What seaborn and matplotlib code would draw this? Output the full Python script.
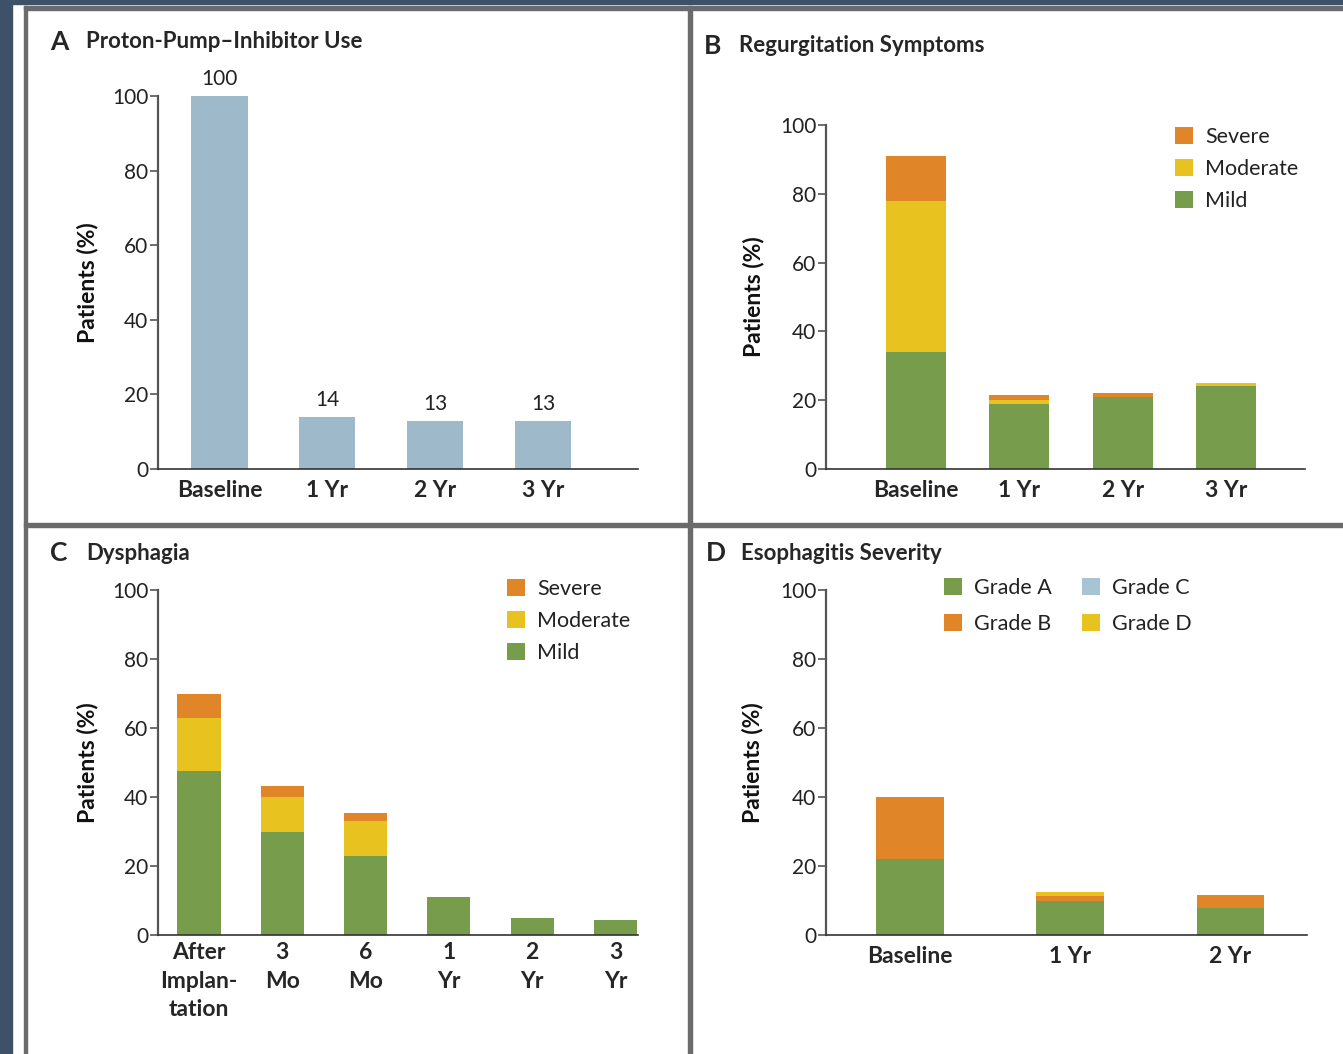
import numpy as np
import matplotlib
matplotlib.use('Agg')
import matplotlib.pyplot as plt
from matplotlib.patches import Patch, Rectangle
import seaborn as sns

# data
ppi_times = ['Baseline', '1 Yr', '2 Yr', '3 Yr']
ppi_use = [100, 14, 13, 13]

regurg_times = ['Baseline', '1 Yr', '2 Yr', '3 Yr']
regurg_mild = [34, 19, 21, 24]
regurg_moderate = [44, 1, 0, 1]
regurg_severe = [13, 1.5, 1, 0]

dysph_times = ['After\nImplan-\ntation', '3\nMo', '6\nMo', '1\nYr', '2\nYr', '3\nYr']
dysph_mild = [47.5, 30, 23, 11, 5, 4.3]
dysph_moderate = [15.5, 10, 10, 0, 0, 0]
dysph_severe = [7, 3.3, 2.3, 0, 0, 0]

eso_times = ['Baseline', '1 Yr', '2 Yr']
grade_a = [22, 10, 7.7]
grade_b = [18, 1.4, 3.8]
grade_c = [0, 0, 0]
grade_d = [0, 1, 0]

green = '#769c4c'
yellow = '#e8c31f'
orange = '#e08628'
lightblue = '#a8c4d4'
ppi_color = '#9db9ca'

sns.set_theme(style='white')
plt.rcParams['font.family'] = ['Lato', 'DejaVu Sans']

W, H = 1343, 1054
fig = plt.figure(figsize=(W / 100, H / 100), dpi=100)
fig.patch.set_facecolor('white')


def fx(px):
    return px / W


def fy(py):
    return 1 - py / H


# dark page background and panel frame
fig.add_artist(Rectangle((0, 0), fx(12), 1, transform=fig.transFigure, color='#3f5169', zorder=0))
fig.add_artist(Rectangle((0, fy(4)), 1, 4 / H, transform=fig.transFigure, color='#3f5169', zorder=0))
frame = '#6b6b6b'
fig.add_artist(Rectangle((fx(24), fy(10)), 1, 4 / H, transform=fig.transFigure, color=frame))
fig.add_artist(Rectangle((fx(24), 0), 3 / W, fy(6), transform=fig.transFigure, color=frame))
fig.add_artist(Rectangle((fx(24), fy(527)), 1, 4 / H, transform=fig.transFigure, color=frame))
fig.add_artist(Rectangle((fx(688), 0), 4 / W, fy(6), transform=fig.transFigure, color=frame))


def make_ax(x0, x1, ytop, ybot):
    return fig.add_axes([fx(x0), fy(ybot), (x1 - x0) / W, (ybot - ytop) / H])


def style_ax(ax, xlim, labx, pad=8):
    ax.set_ylim(0, 100)
    ax.set_xlim(*xlim)
    ax.set_yticks([0, 20, 40, 60, 80, 100])
    sns.despine(ax=ax)
    ax.spines['left'].set_color('#555555')
    ax.spines['left'].set_linewidth(1.6)
    ax.spines['bottom'].set_color('#333333')
    ax.spines['bottom'].set_linewidth(1.2)
    ax.tick_params(axis='y', direction='out', length=6, width=1.2, color='#555555',
                   labelsize=15, pad=1, left=True, labelcolor='#222222')
    ax.tick_params(axis='x', length=0, pad=pad, labelsize=16.5)
    for t in ax.get_xticklabels():
        t.set_fontweight('bold')
    ax.set_xlabel('')
    ax.set_ylabel('Patients (%)', fontsize=16.5, fontweight='bold', color='#111111')
    ax.yaxis.set_label_coords(labx, 0.5)


def stacked(ax, cats, layers, colors, width):
    cum = np.cumsum(np.array(layers, dtype=float), axis=0)
    for i in range(len(layers) - 1, -1, -1):
        sns.barplot(x=cats, y=cum[i], order=cats, color=colors[i], width=width,
                    saturation=1, errorbar=None, linewidth=0, ax=ax)


def legend(ax, labels, colors, x, y, ncol=1, spacing=0.55):
    handles = [Patch(facecolor=c, edgecolor='none') for c in colors]
    ax.legend(handles, labels, loc='upper left', bbox_to_anchor=(fx(x), fy(y)),
              bbox_transform=fig.transFigure, frameon=False, fontsize=15.5,
              handlelength=0.85, handleheight=0.85, handletextpad=0.55,
              labelspacing=spacing, borderpad=0, borderaxespad=0, ncol=ncol,
              columnspacing=1.4, labelcolor='#222222')


def title(letter, text, x_letter, x_text, y):
    fig.text(fx(x_letter), fy(y), letter, fontsize=19, fontweight='bold', va='center', ha='left')
    fig.text(fx(x_text), fy(y), text, fontsize=16, fontweight='bold', va='center', ha='left')


# A  Proton-pump inhibitor use
axA = make_ax(158, 638, 96, 469)
sns.barplot(x=ppi_times, y=ppi_use, order=ppi_times, color=ppi_color, width=0.52,
            saturation=1, errorbar=None, linewidth=0, ax=axA)
axA.bar_label(axA.containers[0], labels=[str(v) for v in ppi_use], padding=5,
              fontsize=15, color='#222222')
style_ax(axA, (-0.57, 3.88), -0.125)
title('A', 'Proton-Pump\u2013Inhibitor Use', 50, 86, 42)

# B  Regurgitation symptoms
axB = make_ax(826, 1305, 125, 469)
stacked(axB, regurg_times, [regurg_mild, regurg_moderate, regurg_severe],
        [green, yellow, orange], 0.58)
style_ax(axB, (-0.87, 3.76), -0.129)
legend(axB, ['Severe', 'Moderate', 'Mild'], [orange, yellow, green], 1175, 127)
title('B', 'Regurgitation Symptoms', 704, 739, 46)

# C  Dysphagia
axC = make_ax(158, 638, 590, 935)
stacked(axC, dysph_times, [dysph_mild, dysph_moderate, dysph_severe],
        [green, yellow, orange], 0.52)
style_ax(axC, (-0.49, 5.27), -0.125, pad=5)
for t in axC.get_xticklabels():
    t.set_linespacing(1.45)
legend(axC, ['Severe', 'Moderate', 'Mild'], [orange, yellow, green], 507, 579)
title('C', 'Dysphagia', 50, 86, 553)

# D  Esophagitis severity
axD = make_ax(826, 1307, 590, 935)
stacked(axD, eso_times, [grade_a, grade_b, grade_c, grade_d],
        [green, orange, lightblue, yellow], 0.42)
style_ax(axD, (-0.525, 2.48), -0.131)
legend(axD, ['Grade A', 'Grade B', 'Grade C', 'Grade D'],
       [green, orange, lightblue, yellow], 944, 578, ncol=2, spacing=0.75)
title('D', 'Esophagitis Severity', 706, 741, 553)

fig.savefig('out.png', dpi=100, facecolor=fig.get_facecolor())
